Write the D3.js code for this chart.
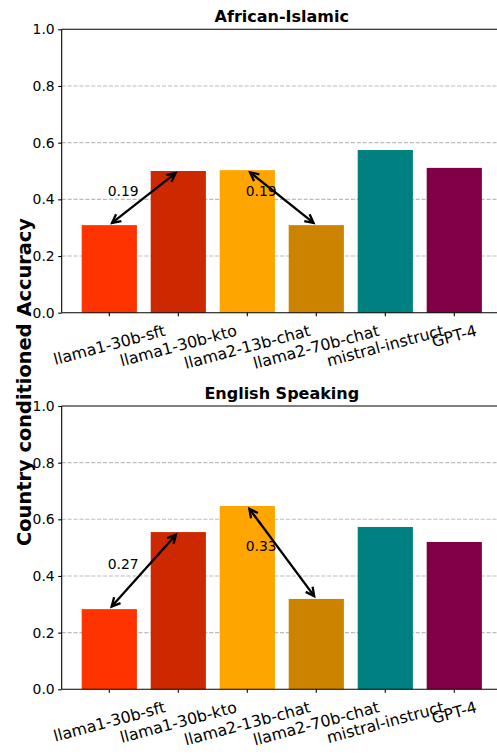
<!DOCTYPE html>
<html>
<head>
<meta charset="utf-8">
<script src="https://cdn.jsdelivr.net/npm/d3@7"></script>
<style>
  html, body { margin: 0; padding: 0; background: #ffffff; }
  svg { display: block; }
  text { font-family: "DejaVu Sans", sans-serif; }
</style>
</head>
<body>
<svg id="chart" width="497" height="754"></svg>
<script>
// ---------------- data ----------------
const categories = ["llama1-30b-sft", "llama1-30b-kto", "llama2-13b-chat", "llama2-70b-chat", "mistral-instruct", "GPT-4"];
const panelTitles = ["African-Islamic", "English Speaking"];
const africanIslamicValues = [0.309, 0.500, 0.503, 0.309, 0.574, 0.511];
const englishSpeakingValues = [0.283, 0.555, 0.647, 0.319, 0.573, 0.520];
const barColors = ["#FF3300", "#CC2900", "#FFA500", "#CC8400", "#008080", "#800045"];
const yTickValues = [0.0, 0.2, 0.4, 0.6, 0.8, 1.0];
const arrowPairs = [[0, 1], [2, 3]];
const yAxisLabel = "Country conditioned Accuracy";

// ---------------- layout ----------------
const svg = d3.select("#chart");
svg.append("rect").attr("width", 497).attr("height", 754).attr("fill", "#ffffff");

const axLeft = 61.7, axRight = 501.9;
const panels = [
  { title: panelTitles[0], values: africanIslamicValues, top: 29.3, bottom: 312.7 },
  { title: panelTitles[1], values: englishSpeakingValues, top: 406.0, bottom: 689.3 }
];

const x = d3.scaleBand()
  .domain(categories)
  .range([axLeft, axRight])
  .paddingInner(0.2)
  .paddingOuter(0.29);

const deg = 15, rad = deg * Math.PI / 180;
const tickFont = 15.8;

panels.forEach(p => {
  const y = d3.scaleLinear().domain([0, 1]).range([p.bottom, p.top]);
  const g = svg.append("g");

  // grid
  g.append("g").selectAll("line")
    .data(yTickValues.filter(v => v > 0 && v < 1))
    .join("line")
    .attr("x1", axLeft).attr("x2", axRight)
    .attr("y1", d => y(d)).attr("y2", d => y(d))
    .attr("stroke", "#b0b0b0").attr("stroke-opacity", 0.85)
    .attr("stroke-width", 1.1)
    .attr("stroke-dasharray", "4.1,1.8");

  // bars
  g.append("g").selectAll("rect")
    .data(p.values)
    .join("rect")
    .attr("x", (d, i) => x(categories[i]))
    .attr("width", x.bandwidth())
    .attr("y", d => y(d))
    .attr("height", d => y(0) - y(d))
    .attr("fill", (d, i) => barColors[i]);

  // y axis
  const yAxis = d3.axisLeft(y).tickValues(yTickValues).tickFormat(d3.format(".1f"))
    .tickSize(3.5).tickPadding(3.5);
  const yg = g.append("g").attr("transform", `translate(${axLeft},0)`).call(yAxis);
  yg.select(".domain").remove();
  yg.selectAll(".tick line").attr("stroke", "#000").attr("stroke-width", 1.1);
  yg.selectAll(".tick text").attr("font-size", "13.9px").attr("fill", "#000")
    .attr("font-family", "DejaVu Sans");

  // x axis ticks
  const xAxis = d3.axisBottom(x).tickSize(3.5).tickFormat("");
  const xg = g.append("g").attr("transform", `translate(0,${p.bottom})`).call(xAxis);
  xg.select(".domain").remove();
  xg.selectAll(".tick line").attr("stroke", "#000").attr("stroke-width", 1.1);

  // rotated x tick labels
  const lg = g.append("g");
  categories.forEach(c => {
    const cx = x(c) + x.bandwidth() / 2;
    const t = lg.append("text")
      .attr("font-size", tickFont + "px")
      .attr("fill", "#000")
      .attr("text-anchor", "middle")
      .text(c);
    const L = t.node().getComputedTextLength();
    const H = 1.164 * tickFont;
    const bh = L * Math.sin(rad) + H * Math.cos(rad);
    const cy = p.bottom + 8.5 + bh / 2;
    t.attr("x", cx).attr("y", cy).attr("dy", "0.346em")
      .attr("transform", `rotate(${-deg},${cx},${cy})`);
  });

  // spines
  const sp = g.append("g").attr("stroke", "#000").attr("stroke-width", 1.1);
  sp.append("line").attr("x1", axLeft).attr("x2", axLeft).attr("y1", p.top).attr("y2", p.bottom);
  sp.append("line").attr("x1", axLeft).attr("x2", axRight).attr("y1", p.bottom).attr("y2", p.bottom);
  sp.append("line").attr("x1", axLeft).attr("x2", axRight).attr("y1", p.top).attr("y2", p.top);
  sp.append("line").attr("x1", axRight).attr("x2", axRight).attr("y1", p.top).attr("y2", p.bottom);

  // title
  g.append("text")
    .attr("x", (axLeft + axRight) / 2)
    .attr("y", p.top - 7.5)
    .attr("text-anchor", "middle")
    .attr("font-size", "16px")
    .attr("font-weight", "bold")
    .attr("fill", "#000")
    .text(p.title);

  // arrows + diff labels
  const ag = g.append("g");
  arrowPairs.forEach(([i, j]) => {
    const x1 = x(categories[i]) + x.bandwidth() / 2, y1 = y(p.values[i]);
    const x2 = x(categories[j]) + x.bandwidth() / 2, y2 = y(p.values[j]);
    const dx = x2 - x1, dy = y2 - y1, len = Math.hypot(dx, dy);
    const ux = dx / len, uy = dy / len;
    const shrink = 3.5;
    const ax = x1 + ux * shrink, ay = y1 + uy * shrink;
    const bx = x2 - ux * shrink, by = y2 - uy * shrink;
    ag.append("line")
      .attr("x1", ax).attr("y1", ay).attr("x2", bx).attr("y2", by)
      .attr("stroke", "#000").attr("stroke-width", 2.3);
    const hl = 8.5, hw = 4.3;
    const head = (tx, ty, dirx, diry) => {
      const px = -diry, py = dirx;
      const p1 = [tx + dirx * hl + px * hw, ty + diry * hl + py * hw];
      const p2 = [tx + dirx * hl - px * hw, ty + diry * hl - py * hw];
      ag.append("path")
        .attr("d", `M${p1[0]},${p1[1]}L${tx},${ty}L${p2[0]},${p2[1]}`)
        .attr("fill", "none").attr("stroke", "#000")
        .attr("stroke-width", 2.3).attr("stroke-linejoin", "miter");
    };
    head(ax, ay, ux, uy);
    head(bx, by, -ux, -uy);

    const diff = Math.abs(p.values[j] - p.values[i]);
    const midY = y((p.values[i] + p.values[j]) / 2);
    ag.append("text")
      .attr("x", x1 + 0.2 * x.step())
      .attr("y", midY - 1.7)
      .attr("text-anchor", "middle")
      .attr("font-size", "13.9px")
      .attr("fill", "#000")
      .text(d3.format(".2f")(diff));
  });
});

// shared y label
svg.append("text")
  .attr("transform", "translate(24,382) rotate(-90)")
  .attr("text-anchor", "middle")
  .attr("dy", "0.35em")
  .attr("font-size", "19.4px")
  .attr("font-weight", "bold")
  .attr("fill", "#000")
  .text(yAxisLabel);
</script>
</body>
</html>
